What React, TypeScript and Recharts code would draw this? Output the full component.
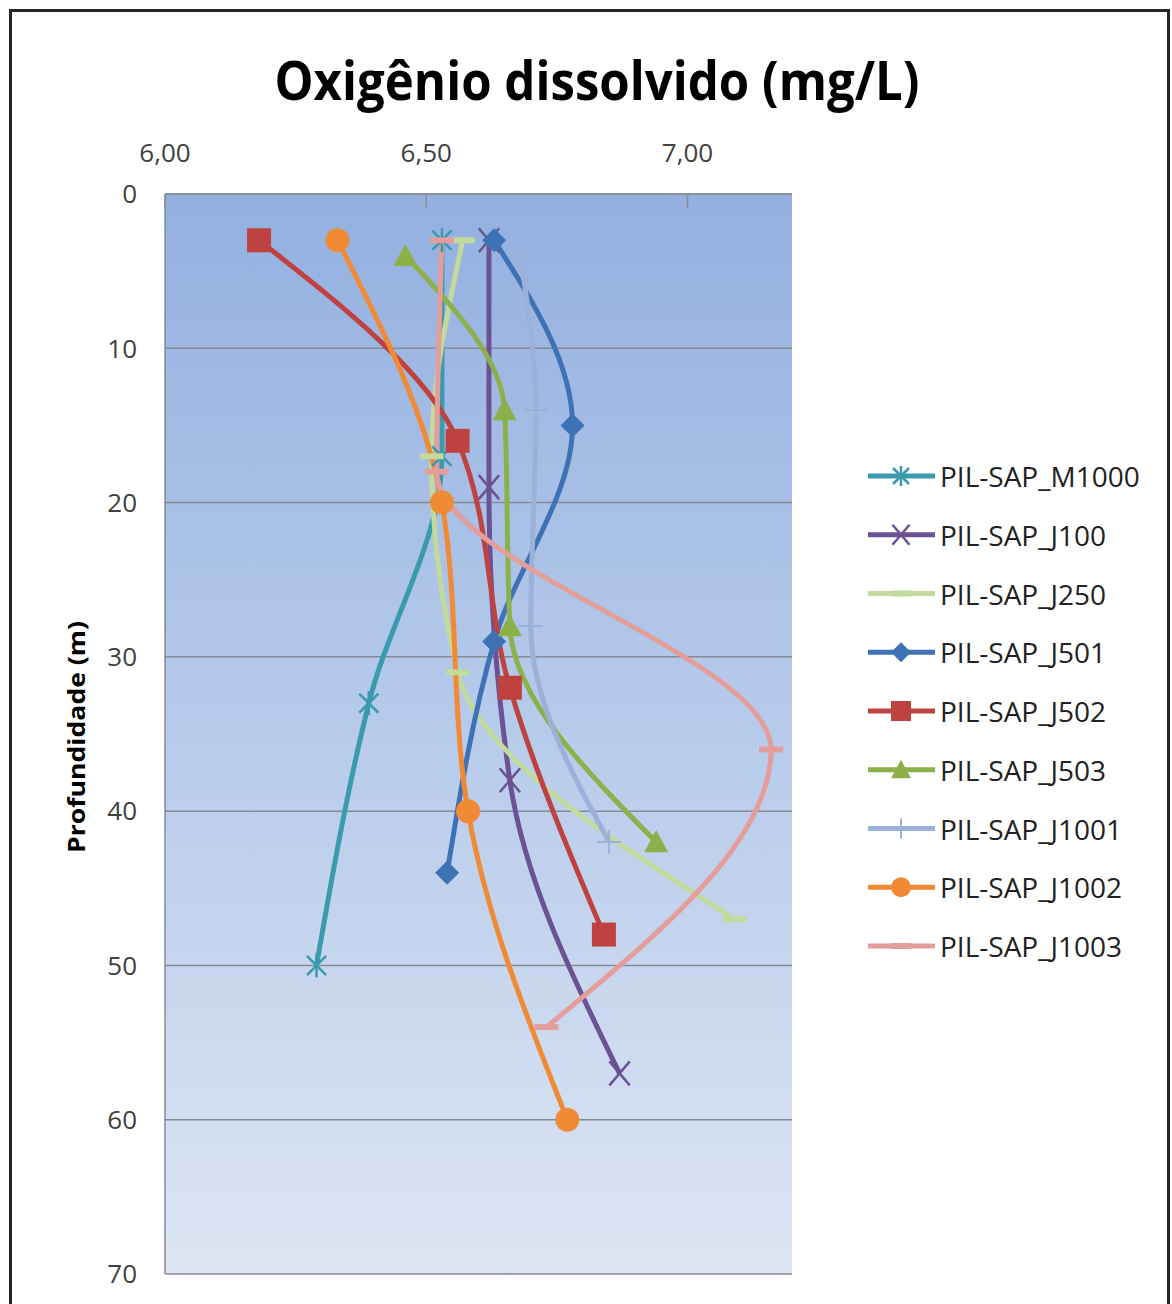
import { CartesianGrid, Legend, Line, LineChart, XAxis, YAxis } from 'recharts';

type Ponto = { prof: number; od: number };
type Marcador = 'asterisco' | 'xis' | 'traco' | 'losango' | 'quadrado' | 'triangulo' | 'mais' | 'circulo';

// Perfis de oxigênio dissolvido (mg/L) por profundidade (m) em cada ponto
const M1000: Ponto[] = [
  { prof: 3, od: 6.53 },
  { prof: 17, od: 6.53 },
  { prof: 33, od: 6.39 },
  { prof: 50, od: 6.29 },
];
const J100: Ponto[] = [
  { prof: 3, od: 6.62 },
  { prof: 19, od: 6.62 },
  { prof: 38, od: 6.66 },
  { prof: 57, od: 6.87 },
];
const J250: Ponto[] = [
  { prof: 3, od: 6.57 },
  { prof: 17, od: 6.51 },
  { prof: 31, od: 6.56 },
  { prof: 47, od: 7.09 },
];
const J501: Ponto[] = [
  { prof: 3, od: 6.63 },
  { prof: 15, od: 6.78 },
  { prof: 29, od: 6.63 },
  { prof: 44, od: 6.54 },
];
const J502: Ponto[] = [
  { prof: 3, od: 6.18 },
  { prof: 16, od: 6.56 },
  { prof: 32, od: 6.66 },
  { prof: 48, od: 6.84 },
];
const J503: Ponto[] = [
  { prof: 4, od: 6.46 },
  { prof: 14, od: 6.65 },
  { prof: 28, od: 6.66 },
  { prof: 42, od: 6.94 },
];
const J1001: Ponto[] = [
  { prof: 4, od: 6.68 },
  { prof: 14, od: 6.71 },
  { prof: 28, od: 6.7 },
  { prof: 42, od: 6.85 },
];
const J1002: Ponto[] = [
  { prof: 3, od: 6.33 },
  { prof: 20, od: 6.53 },
  { prof: 40, od: 6.58 },
  { prof: 60, od: 6.77 },
];
const J1003: Ponto[] = [
  { prof: 3, od: 6.53 },
  { prof: 18, od: 6.52 },
  { prof: 36, od: 7.16 },
  { prof: 54, od: 6.73 },
];

const TICKS_OD = [6, 6.5, 7];
const TICKS_PROF = [0, 10, 20, 30, 40, 50, 60, 70];

const SERIES: { nome: string; dados: Ponto[]; cor: string; marcador: Marcador }[] = [
  { nome: 'PIL-SAP_M1000', dados: M1000, cor: '#3a9aae', marcador: 'asterisco' },
  { nome: 'PIL-SAP_J100', dados: J100, cor: '#6a5294', marcador: 'xis' },
  { nome: 'PIL-SAP_J250', dados: J250, cor: '#c2db9c', marcador: 'traco' },
  { nome: 'PIL-SAP_J501', dados: J501, cor: '#3f72b5', marcador: 'losango' },
  { nome: 'PIL-SAP_J502', dados: J502, cor: '#be4340', marcador: 'quadrado' },
  { nome: 'PIL-SAP_J503', dados: J503, cor: '#8db14a', marcador: 'triangulo' },
  { nome: 'PIL-SAP_J1001', dados: J1001, cor: '#9bb1da', marcador: 'mais' },
  { nome: 'PIL-SAP_J1002', dados: J1002, cor: '#f08a35', marcador: 'circulo' },
  { nome: 'PIL-SAP_J1003', dados: J1003, cor: '#e39e9b', marcador: 'traco' },
];

const FONTE = '"Open Sans", "Liberation Sans", sans-serif';

const formatoOd = (v: number) => v.toFixed(2).replace('.', ',');

function Simbolo({ tipo, x, y, cor, s = 12 }: { tipo: Marcador; x: number; y: number; cor: string; s?: number }) {
  switch (tipo) {
    case 'asterisco':
      return (
        <g stroke={cor} strokeWidth={2.5}>
          <line x1={x - s * 0.8} y1={y - s * 0.8} x2={x + s * 0.8} y2={y + s * 0.8} />
          <line x1={x - s * 0.8} y1={y + s * 0.8} x2={x + s * 0.8} y2={y - s * 0.8} />
          <line x1={x} y1={y - s} x2={x} y2={y + s} />
        </g>
      );
    case 'xis':
      return (
        <g stroke={cor} strokeWidth={2.5}>
          <line x1={x - s * 0.85} y1={y - s} x2={x + s * 0.85} y2={y + s} />
          <line x1={x - s * 0.85} y1={y + s} x2={x + s * 0.85} y2={y - s} />
        </g>
      );
    case 'traco':
      return <rect x={x - s} y={y - 3} width={s * 2} height={6} fill={cor} />;
    case 'losango':
      return <polygon points={`${x},${y - s} ${x + s},${y} ${x},${y + s} ${x - s},${y}`} fill={cor} />;
    case 'quadrado':
      return <rect x={x - s} y={y - s} width={s * 2} height={s * 2} fill={cor} />;
    case 'triangulo':
      return <polygon points={`${x},${y - s} ${x + s},${y + s * 0.85} ${x - s},${y + s * 0.85}`} fill={cor} />;
    case 'mais':
      return (
        <g stroke={cor} strokeWidth={2}>
          <line x1={x - s} y1={y} x2={x + s} y2={y} />
          <line x1={x} y1={y - s} x2={x} y2={y + s} />
        </g>
      );
    default:
      return <circle cx={x} cy={y} r={s} fill={cor} />;
  }
}

const TickOd = (p: any) => (
  <g>
    <text x={p.x} y={p.y} textAnchor="middle" fontSize={26} fill="#404040" fontFamily={FONTE}>
      {formatoOd(p.payload.value)}
    </text>
    <line x1={p.x} x2={p.x} y1={p.y + 32} y2={p.y + 46} stroke="#8a8d94" strokeWidth={1.5} />
  </g>
);

const Legenda = () => (
  <svg width={310} height={520}>
    {SERIES.map((s, i) => {
      const y = 26 + i * 58.75;
      return (
        <g key={s.nome}>
          <line x1={8} x2={75} y1={y} y2={y} stroke={s.cor} strokeWidth={5} />
          <Simbolo tipo={s.marcador} x={41} y={y} cor={s.cor} s={10} />
          <text x={80} y={y} dominantBaseline="central" fontSize={28} fill="#222" fontFamily={FONTE}>
            {s.nome}
          </text>
        </g>
      );
    })}
  </svg>
);

export default function App() {
  return (
    <div
      style={{
        position: 'absolute',
        left: 0,
        top: 0,
        width: 1172,
        height: 1304,
        overflow: 'hidden',
        background: '#fff',
      }}
    >
      <div
        style={{
          position: 'absolute',
          left: 9,
          top: 9,
          width: 1155,
          height: 1400,
          border: '3px solid #262626',
        }}
      />
      <div style={{ position: 'absolute', left: 0, top: 0 }}>
        <LineChart
          layout="vertical"
          width={1172}
          height={1304}
          margin={{ top: 150, right: 80, bottom: 30, left: 70 }}
        >
          <defs>
            <linearGradient id="fundoPlot" x1="0" y1="0" x2="0" y2="1">
              <stop offset="0" stopColor="#93b0e0" />
              <stop offset="0.5" stopColor="#b7cbeb" />
              <stop offset="1" stopColor="#dde5f3" />
            </linearGradient>
          </defs>
          <text
            x={597}
            y={100}
            textAnchor="middle"
            fontSize={54}
            fontWeight={700}
            fontFamily={FONTE}
            fill="#000"
            textLength={645}
            lengthAdjust="spacingAndGlyphs"
          >
            Oxigênio dissolvido (mg/L)
          </text>
          <text
            transform="translate(85,737) rotate(-90)"
            textAnchor="middle"
            fontSize={24}
            fontWeight={700}
            fontFamily={FONTE}
            fill="#000"
            textLength={232}
            lengthAdjust="spacingAndGlyphs"
          >
            Profundidade (m)
          </text>
          <CartesianGrid
            vertical={false}
            horizontalValues={TICKS_PROF}
            stroke="#868a92"
            strokeWidth={1.5}
            fill="url(#fundoPlot)"
            fillOpacity={1}
          />
          <XAxis
            type="number"
            orientation="top"
            domain={[6, 7.2]}
            ticks={TICKS_OD}
            height={44}
            tickSize={0}
            tickMargin={32}
            tickLine={false}
            axisLine={{ stroke: '#868a92', strokeWidth: 1.5 }}
            tick={TickOd}
            allowDataOverflow
          />
          {/* no layout vertical o eixo Y já cresce de cima para baixo */}
          <YAxis
            type="number"
            dataKey="prof"
            domain={[0, 70]}
            ticks={TICKS_PROF}
            width={95}
            tickSize={0}
            tickMargin={28}
            tickLine={false}
            axisLine={{ stroke: '#868a92', strokeWidth: 1.5 }}
            tick={{ fontSize: 26, fill: '#404040', fontFamily: FONTE }}
            allowDataOverflow
          />
          <Legend
            layout="vertical"
            align="right"
            verticalAlign="middle"
            width={300}
            wrapperStyle={{ left: 860, top: 450, width: 300 }}
            content={Legenda}
          />
          {SERIES.map((s) => (
            <Line
              key={s.nome}
              name={s.nome}
              data={s.dados}
              dataKey="od"
              type="monotone"
              stroke={s.cor}
              strokeWidth={5}
              isAnimationActive={false}
              dot={(p: any) => (
                <Simbolo key={`${s.nome}-${p.index}`} tipo={s.marcador} x={p.cx} y={p.cy} cor={s.cor} />
              )}
              activeDot={false}
            />
          ))}
        </LineChart>
      </div>
    </div>
  );
}
